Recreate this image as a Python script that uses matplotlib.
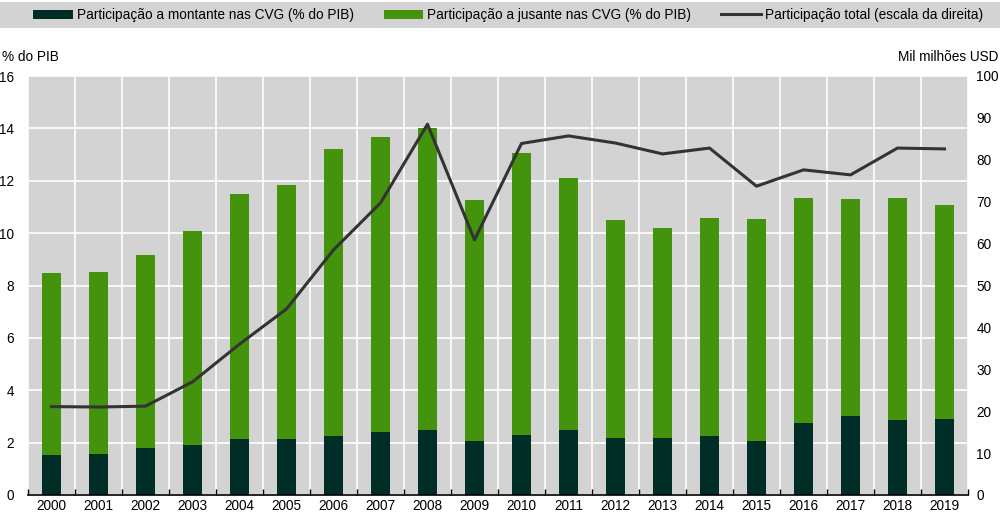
import matplotlib
matplotlib.use("Agg")
import matplotlib.pyplot as plt
from matplotlib.patches import Rectangle
import numpy as np

plt.rcParams['font.family'] = ['Liberation Sans', 'DejaVu Sans']

years = [str(y) for y in range(2000, 2020)]
upstream = [1.53, 1.55, 1.78, 1.90, 2.14, 2.12, 2.27, 2.41, 2.47, 2.08,
            2.30, 2.47, 2.18, 2.17, 2.25, 2.08, 2.75, 3.03, 2.87, 2.92]
total_pct = [8.48, 8.50, 9.15, 10.10, 11.48, 11.85, 13.20, 13.68, 14.00, 11.25,
             13.05, 12.10, 10.50, 10.20, 10.58, 10.55, 11.35, 11.32, 11.35, 11.08]
downstream = [t - u for t, u in zip(total_pct, upstream)]
total_usd = [21.1, 21.0, 21.2, 27.0, 36.0, 44.4, 58.5, 69.7, 88.5, 60.9,
             83.9, 85.7, 84.0, 81.4, 82.8, 73.7, 77.6, 76.4, 82.8, 82.6]

c_dark = '#002D26'
c_green = '#44930C'
c_line = '#333333'
c_bg = '#D3D3D3'
fs = 9.8

fig = plt.figure(figsize=(10, 5.15), dpi=100)
ax = fig.add_axes([0.028, 20/515, 0.940, 419/515])
ax.set_facecolor(c_bg)

x = np.arange(len(years))
ax.bar(x, upstream, width=0.4, color=c_dark, zorder=3,
       label='Participação a montante nas CVG (% do PIB)')
ax.bar(x, downstream, width=0.4, bottom=upstream, color=c_green, zorder=3,
       label='Participação a jusante nas CVG (% do PIB)')

ax.set_xlim(-0.5, len(years) - 0.5)
ax.set_ylim(0, 16)
ax.set_yticks(range(0, 17, 2))
ax.set_xticks(x)
ax.set_xticklabels(years)
ax.set_xticks(np.arange(-0.5, len(years), 1), minor=True)
ax.tick_params(axis='x', which='major', length=0, labelsize=fs, pad=3)
ax.tick_params(axis='x', which='minor', length=4, direction='in', color='black', width=1)
ax.tick_params(axis='y', length=0, labelsize=fs, pad=10)
ax.grid(axis='y', color='white', linewidth=1.2, zorder=1)
ax.grid(axis='x', which='minor', color='white', linewidth=1.2, zorder=1)
for s in ['top', 'right', 'left']:
    ax.spines[s].set_visible(False)
ax.spines['bottom'].set_color('black')
ax.spines['bottom'].set_linewidth(1.2)
ax.spines['bottom'].set_zorder(5)

ax2 = ax.twinx()
ax2.plot(x, total_usd, color=c_line, linewidth=2.2, zorder=4,
         label='Participação total (escala da direita)')
ax2.set_ylim(0, 100)
ax2.set_yticks(range(0, 101, 10))
ax2.tick_params(axis='y', length=0, labelsize=fs, pad=6)
for s in ['top', 'right', 'left', 'bottom']:
    ax2.spines[s].set_visible(False)

fig.text(0.002, 1 - 57/515, '% do PIB', fontsize=fs, ha='left', va='center')
fig.text(0.998, 1 - 57/515, 'Mil milhões USD', fontsize=fs, ha='right', va='center')

fig.patches.append(Rectangle((0.0, 1 - 28/515), 1.0, 26/515, transform=fig.transFigure,
                             facecolor=c_bg, edgecolor='none', zorder=0))
h1, l1 = ax.get_legend_handles_labels()
h2, l2 = ax2.get_legend_handles_labels()
fig.legend(h1 + h2, l1 + l2, loc='center', bbox_to_anchor=(0.508, 1 - 15/515), ncol=3,
           frameon=False, fontsize=9.8, handlelength=2.9, handleheight=0.6,
           columnspacing=2.2, handletextpad=0.3)

fig.savefig('out.png', dpi=100)
